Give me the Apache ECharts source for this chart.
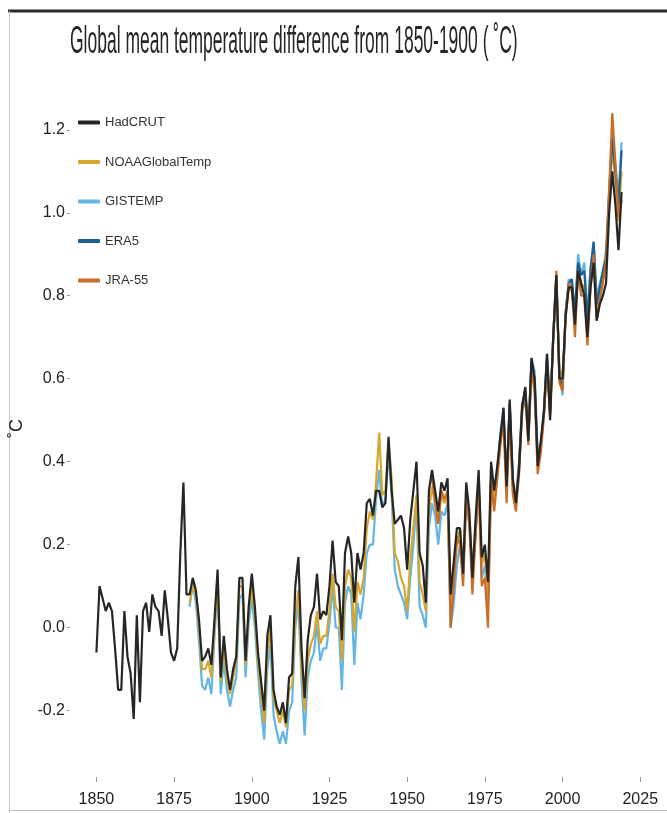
<!DOCTYPE html>
<html>
<head>
<meta charset="utf-8">
<title>Global mean temperature difference from 1850-1900</title>
<script src="https://cdn.jsdelivr.net/npm/echarts@6/dist/echarts.min.js"></script>
<style>
  html, body { margin: 0; padding: 0; background: #fff; }
  #chart { width: 667px; height: 813px; }
</style>
</head>
<body>
<div id="chart"></div>
<script>
// first year of each record
const hadcrutStart = 1850;
const noaaStart = 1880;
const gistempStart = 1880;
const era5Start = 1979;
const jra55Start = 1958;

// annual anomalies vs 1850-1900 (°C)
const hadcrut = [
  -0.06, 0.10, 0.07, 0.04, 0.06, 0.04, -0.05, -0.15, -0.15, 0.04,
  -0.07, -0.11, -0.22, 0.03, -0.18, 0.04, 0.06, -0.01, 0.08, 0.05,
  0.04, -0.02, 0.09, 0.02, -0.06, -0.08, -0.05, 0.18, 0.35, 0.08,
  0.08, 0.12, 0.09, 0.02, -0.08, -0.07, -0.05, -0.09, 0.02, 0.14,
  -0.12, -0.02, -0.10, -0.15, -0.10, -0.07, 0.12, 0.12, -0.08, 0.05,
  0.13, 0.05, -0.06, -0.13, -0.20, -0.02, 0.03, -0.15, -0.19, -0.21,
  -0.18, -0.23, -0.12, -0.11, 0.10, 0.17, -0.05, -0.17, -0.03, 0.03,
  0.05, 0.13, 0.02, 0.04, 0.03, 0.10, 0.21, 0.11, 0.10, -0.03,
  0.18, 0.22, 0.18, 0.06, 0.18, 0.14, 0.18, 0.30, 0.31, 0.27,
  0.33, 0.33, 0.29, 0.30, 0.46, 0.33, 0.25, 0.26, 0.27, 0.24,
  0.14, 0.26, 0.33, 0.40, 0.18, 0.15, 0.06, 0.33, 0.38, 0.33,
  0.28, 0.35, 0.33, 0.36, 0.08, 0.16, 0.24, 0.24, 0.13, 0.35,
  0.28, 0.12, 0.26, 0.38, 0.17, 0.20, 0.11, 0.40, 0.33, 0.39,
  0.46, 0.53, 0.34, 0.55, 0.36, 0.30, 0.38, 0.53, 0.58, 0.45,
  0.65, 0.60, 0.39, 0.45, 0.52, 0.66, 0.50, 0.70, 0.85, 0.60,
  0.60, 0.75, 0.82, 0.82, 0.73, 0.86, 0.83, 0.80, 0.70, 0.82,
  0.88, 0.74, 0.78, 0.80, 0.83, 1.00, 1.10, 1.02, 0.91, 1.05
];
const noaa = [
  0.06, 0.10, 0.08, 0.00, -0.10, -0.10, -0.08, -0.12, 0.00, 0.12,
  -0.13, -0.05, -0.12, -0.16, -0.12, -0.08, 0.10, 0.10, -0.09, 0.03,
  0.10, 0.03, -0.08, -0.16, -0.23, -0.06, 0.00, -0.17, -0.20, -0.23,
  -0.20, -0.24, -0.15, -0.14, 0.03, 0.09, -0.10, -0.20, -0.08, -0.04,
  -0.02, 0.04, -0.04, -0.02, -0.02, 0.04, 0.13, 0.05, 0.04, -0.08,
  0.10, 0.14, 0.12, -0.01, 0.11, 0.08, 0.12, 0.24, 0.28, 0.26,
  0.35, 0.47, 0.32, 0.33, 0.45, 0.36, 0.18, 0.16, 0.12, 0.10,
  0.04, 0.16, 0.24, 0.32, 0.11, 0.08, 0.04, 0.28, 0.34, 0.30,
  0.25, 0.32, 0.30, 0.32, 0.04, 0.12, 0.20, 0.24, 0.15, 0.32,
  0.27, 0.14, 0.24, 0.36, 0.15, 0.18, 0.08, 0.37, 0.31, 0.37,
  0.45, 0.50, 0.36, 0.52, 0.34, 0.31, 0.39, 0.52, 0.55, 0.46,
  0.62, 0.59, 0.41, 0.44, 0.51, 0.63, 0.51, 0.70, 0.83, 0.62,
  0.61, 0.75, 0.82, 0.81, 0.76, 0.87, 0.83, 0.82, 0.74, 0.84,
  0.90, 0.77, 0.81, 0.84, 0.90, 1.05, 1.15, 1.08, 0.98, 1.10
];
const gistemp = [
  0.05, 0.11, 0.06, -0.03, -0.14, -0.15, -0.12, -0.16, -0.02, 0.10,
  -0.16, -0.08, -0.15, -0.19, -0.15, -0.12, 0.07, 0.08, -0.12, 0.01,
  0.07, 0.00, -0.11, -0.20, -0.27, -0.10, -0.04, -0.21, -0.25, -0.28,
  -0.25, -0.28, -0.20, -0.18, 0.00, 0.06, -0.13, -0.26, -0.12, -0.08,
  -0.06, 0.01, -0.08, -0.05, -0.05, 0.01, 0.10, 0.00, 0.00, -0.15,
  0.06, 0.10, 0.08, -0.09, 0.06, 0.02, 0.08, 0.18, 0.20, 0.20,
  0.31, 0.38, 0.29, 0.31, 0.42, 0.32, 0.14, 0.10, 0.08, 0.06,
  0.02, 0.12, 0.20, 0.30, 0.05, 0.03, 0.00, 0.24, 0.30, 0.27,
  0.20, 0.28, 0.27, 0.30, 0.00, 0.06, 0.15, 0.20, 0.12, 0.30,
  0.25, 0.12, 0.22, 0.35, 0.12, 0.15, 0.05, 0.36, 0.30, 0.37,
  0.47, 0.53, 0.35, 0.54, 0.35, 0.31, 0.40, 0.53, 0.58, 0.47,
  0.65, 0.62, 0.42, 0.44, 0.52, 0.66, 0.54, 0.69, 0.84, 0.62,
  0.56, 0.76, 0.84, 0.83, 0.76, 0.90, 0.85, 0.88, 0.75, 0.87,
  0.93, 0.80, 0.83, 0.86, 0.91, 1.06, 1.19, 1.12, 1.04, 1.17
];
const era5 = [
  0.38,
  0.46, 0.51, 0.34, 0.54, 0.35, 0.30, 0.39, 0.54, 0.57, 0.46,
  0.64, 0.60, 0.40, 0.44, 0.52, 0.65, 0.52, 0.70, 0.85, 0.60,
  0.58, 0.76, 0.83, 0.84, 0.76, 0.88, 0.85, 0.86, 0.74, 0.86,
  0.93, 0.78, 0.82, 0.86, 0.89, 1.04, 1.18, 1.10, 1.02, 1.15
];
const jra55 = [
  0.36, 0.30,
  0.25, 0.33, 0.31, 0.33, 0.00, 0.10, 0.22, 0.20, 0.10, 0.31,
  0.25, 0.08, 0.22, 0.35, 0.10, 0.12, 0.00, 0.35, 0.28, 0.36,
  0.44, 0.50, 0.30, 0.52, 0.32, 0.28, 0.37, 0.52, 0.56, 0.44,
  0.62, 0.57, 0.37, 0.42, 0.51, 0.64, 0.52, 0.70, 0.86, 0.59,
  0.57, 0.76, 0.83, 0.82, 0.70, 0.86, 0.80, 0.80, 0.68, 0.82,
  0.90, 0.74, 0.79, 0.83, 0.88, 1.05, 1.24, 1.12, 0.99, 1.03
];

const xTicks = [1850, 1875, 1900, 1925, 1950, 1975, 2000, 2025];
const yTicks = [-0.2, 0.0, 0.2, 0.4, 0.6, 0.8, 1.0, 1.2];

const labelFont = "'Liberation Sans', Arial, sans-serif";

// [year, value] pairs for a value x axis
function toPairs(values, start) {
  return values.map((v, i) => [start + i, v]);
}

function lineSeries(name, values, start, color, z) {
  return {
    name: name,
    type: 'line',
    z: z,
    showSymbol: false,
    symbol: 'none',
    silent: true,
    lineStyle: { color: color, width: 2.2 },
    itemStyle: { color: color },
    emphasis: { disabled: true },
    data: toPairs(values, start)
  };
}

const chart = echarts.init(document.getElementById('chart'));

const option = {
  backgroundColor: '#ffffff',
  animation: false,
  graphic: [
    // screenshot frame
    { type: 'line', shape: { x1: 8, y1: 11, x2: 667, y2: 11 }, style: { stroke: '#2a2a2a', lineWidth: 3 } },
    { type: 'line', shape: { x1: 9.5, y1: 11, x2: 9.5, y2: 813 }, style: { stroke: '#c8c8c8', lineWidth: 1 } },
    { type: 'line', shape: { x1: 9, y1: 810.5, x2: 667, y2: 810.5 }, style: { stroke: '#bdbdbd', lineWidth: 1 } },
    // condensed title
    {
      type: 'text',
      x: 70,
      y: 24,
      scaleX: 0.46,
      style: {
        text: 'Global mean temperature difference from 1850-1900 ( ˚C)',
        font: "38px 'Liberation Sans', Arial, sans-serif",
        fill: '#262626',
        textVerticalAlign: 'top'
      }
    }
  ],
  legend: {
    orient: 'vertical',
    left: 73,
    top: 111,
    icon: 'roundRect',
    itemWidth: 22,
    itemHeight: 4,
    itemGap: 26.5,
    textStyle: { fontFamily: labelFont, fontSize: 13, color: '#333' },
    data: ['HadCRUT', 'NOAAGlobalTemp', 'GISTEMP', 'ERA5', 'JRA-55']
  },
  grid: {
    left: 70,
    right: 19,
    top: 80,
    bottom: 36,
    containLabel: false
  },
  xAxis: {
    type: 'value',
    min: 1841.5,
    max: 2027.5,
    axisLine: { show: false, onZero: false },
    splitLine: { show: false },
    axisTick: {
      show: true,
      length: 5,
      customValues: xTicks,
      lineStyle: { color: '#999' }
    },
    axisLabel: {
      customValues: xTicks,
      margin: 15,
      fontFamily: labelFont,
      fontSize: 16,
      color: '#222',
      formatter: (v) => String(v)
    }
  },
  yAxis: {
    type: 'value',
    min: -0.36,
    max: 1.32,
    name: '˚C',
    nameLocation: 'middle',
    nameRotate: 90,
    nameGap: 44,
    nameTextStyle: { fontFamily: labelFont, fontSize: 18, color: '#222' },
    axisLine: { show: false, onZero: false },
    splitLine: { show: false },
    axisTick: {
      show: true,
      length: 3,
      customValues: yTicks,
      lineStyle: { color: '#999' }
    },
    axisLabel: {
      customValues: yTicks,
      margin: 5,
      fontFamily: labelFont,
      fontSize: 16,
      color: '#222',
      formatter: (v) => v.toFixed(1)
    }
  },
  series: [
    lineSeries('HadCRUT', hadcrut, hadcrutStart, '#262626', 6),
    lineSeries('NOAAGlobalTemp', noaa, noaaStart, '#d6a62e', 3),
    lineSeries('GISTEMP', gistemp, gistempStart, '#62b6e6', 2),
    lineSeries('ERA5', era5, era5Start, '#1f5f8e', 4),
    lineSeries('JRA-55', jra55, jra55Start, '#c96d2b', 5)
  ]
};

chart.setOption(option);
</script>
</body>
</html>
